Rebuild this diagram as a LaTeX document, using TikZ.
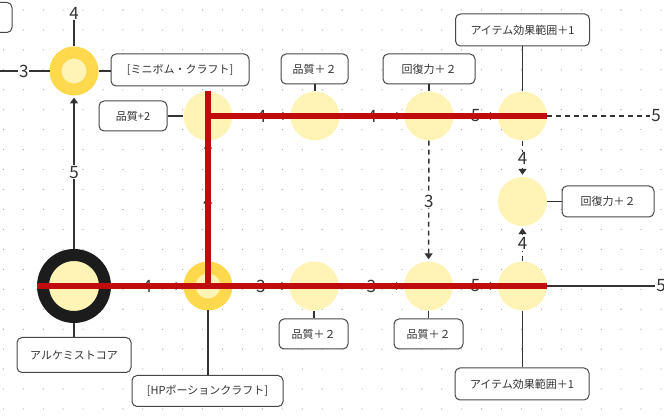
\documentclass[tikz,border=0pt]{standalone}
\usepackage{fontspec}
\setmainfont{Noto Sans CJK JP}
\usetikzlibrary{arrows.meta,calc,positioning}
\definecolor{slotyel}{RGB}{255,244,181}
\definecolor{ringyel}{RGB}{255,217,77}
\definecolor{ringblk}{RGB}{28,28,28}
\definecolor{routered}{RGB}{192,12,12}
\definecolor{inkgray}{RGB}{51,51,51}
\definecolor{dotgray}{RGB}{165,165,165}
\tikzset{
  slot/.style={circle,fill=slotyel,inner sep=0pt,minimum size=49pt},
  craft/.style={slot,draw=ringyel,line width=12pt,minimum size=37pt},
  core/.style={slot,draw=ringblk,line width=12pt,minimum size=62pt},
  tag/.style={draw=inkgray!90,line width=1pt,rounded corners=5pt,fill=white,text=inkgray,
    font=\fontsize{11}{13}\selectfont,inner sep=0pt,minimum height=31pt},
  link/.style={draw=inkgray,line width=1.4pt},
  cost/.style={link,-{Triangle[length=6pt,width=8pt]},shorten >=2pt},
  costdash/.style={cost,dashed,dash pattern=on 5pt off 4pt},
  num/.style={fill=white,inner sep=1pt,text=inkgray,font=\fontsize{17}{17}\selectfont},
  route/.style={draw=routered,line width=6.5pt}
}
\begin{document}
\begin{tikzpicture}[x=1pt,y=-1pt]
\useasboundingbox (0,0) rectangle (664,419);
\foreach \i in {0,...,33}
  \foreach \j in {0,...,20}
    \fill[dotgray] (3.3+19.93*\i,10+19.95*\j) circle (0.65pt);

% skill slots
\node[core] (core) at (74,286) {};
\node[craft] (hp) at (208,286) {};
\node[craft] (bomb) at (74,71) {};
\node[slot] (q) at (208,116) {};
\node[slot] (t1) at (315,116) {};
\node[slot] (t2) at (429,116) {};
\node[slot] (t3) at (522.5,116) {};
\node[slot] (mid) at (522.5,201.5) {};
\node[slot] (b1) at (314,286) {};
\node[slot] (b2) at (428.5,286) {};
\node[slot] (b3) at (522.5,286) {};

% tags
\node[tag,minimum width=114pt,minimum height=35pt] (coretag) at (74,355) {アルケミストコア};
\node[tag,minimum width=151pt] (hptag) at (207.5,391) {[HPポーションクラフト]};
\node[tag,minimum width=69pt,minimum height=30pt] (b1tag) at (313.5,334) {品質＋２};
\node[tag,minimum width=69pt,minimum height=30pt] (b2tag) at (428.5,334) {品質＋２};
\node[tag,minimum width=134pt,minimum height=32pt] (b3tag) at (522,384) {アイテム効果範囲＋1};
\node[tag,minimum width=134pt,minimum height=32pt] (t3tag) at (522.5,30) {アイテム効果範囲＋1};
\node[tag,minimum width=92pt,minimum height=30pt] (t2tag) at (429,69) {回復力＋２};
\node[tag,minimum width=67pt,minimum height=30pt] (t1tag) at (314.5,69) {品質＋２};
\node[tag,minimum width=68pt,minimum height=30pt] (qtag) at (133,116) {品質+2};
\node[tag,minimum width=138pt,minimum height=32pt] (bombtag) at (180,70) {[ミニボム・クラフト]};
\node[tag,minimum width=92pt,minimum height=31pt] (midtag) at (608,201.5) {回復力＋２};
\node[tag,minimum width=50pt,minimum height=30pt] (cuttag) at (-13,17.5) {};

\draw[link] (core) -- (core|-coretag.north);
\draw[link] (hp) -- (hp|-hptag.north);
\draw[link] (b1) -- (b1|-b1tag.north);
\draw[link] (b2) -- (b2|-b2tag.north);
\draw[link] (b3) -- (b3|-b3tag.north);
\draw[link] (t3) -- (t3|-t3tag.south);
\draw[link] (t2) -- (t2|-t2tag.south);
\draw[link] (t1) -- (t1|-t1tag.south);
\draw[link] (q) -- (qtag);
\draw[link] (bomb) -- (bomb-|bombtag.west);
\draw[link] (mid) -- (midtag);

% free ends
\coordinate (bombup) at (74,13);
\coordinate (bombleft) at (-2,71);
\coordinate (t3out) at (656,116);
\coordinate (b3out) at (661,286);

\draw[cost] (core) -- node[num]{4} (hp);
\draw[cost] (core) -- node[num]{5} (bomb);
\draw[link] (bomb) -- (bombup) node[num]{4};
\draw[link] (bomb) -- node[num]{3} (bombleft);
\draw[cost] (hp) -- node[num]{4} (q);
\draw[cost] (q) -- node[num]{4} (t1);
\draw[cost] (t1) -- node[num]{4} (t2);
\draw[cost] (t2) -- node[num]{5} (t3);
\draw[cost] (hp) -- node[num]{3} (b1);
\draw[cost] (b1) -- node[num]{3} (b2);
\draw[cost] (b2) -- node[num]{5} (b3);
\draw[costdash] (t2) -- node[num]{3} (b2);
\draw[costdash] (t3) -- node[num]{4} (mid);
\draw[costdash] (b3) -- node[num]{4} (mid);
\draw[link,dashed,dash pattern=on 5pt off 4pt] (t3) -- (t3out) node[num]{5};
\draw[link] (b3) -- (b3out) node[num]{5};

% chosen route
\draw[route] (core.west) -- (b3.east);
\draw[route] (hp.center) -- (q.north);
\draw[route] (q.center) -- (t3.east);
\end{tikzpicture}
\end{document}
